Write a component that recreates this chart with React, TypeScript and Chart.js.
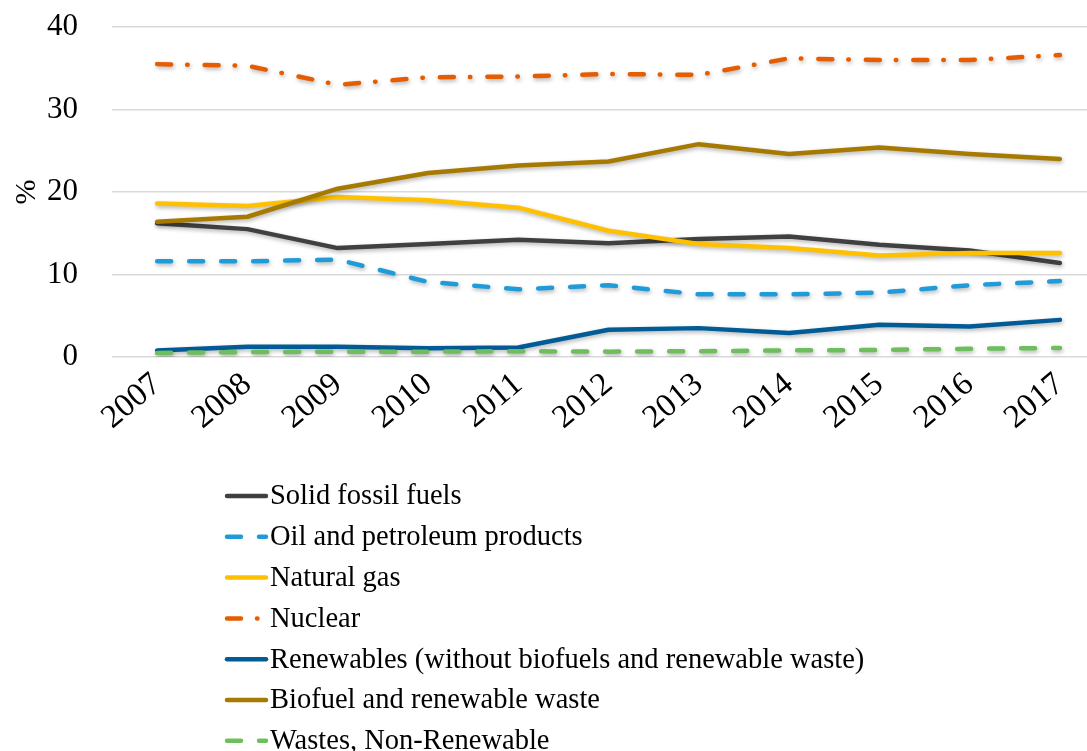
import React, { useEffect, useRef } from "react";
import { Chart, registerables } from "chart.js";

Chart.register(...registerables);

const years = [2007, 2008, 2009, 2010, 2011, 2012, 2013, 2014, 2015, 2016, 2017];
const seriesNames = [
  "Solid fossil fuels",
  "Oil and petroleum products",
  "Natural gas",
  "Nuclear",
  "Renewables (without biofuels and renewable waste)",
  "Biofuel and renewable waste",
  "Wastes, Non-Renewable",
];
const solidFossil = [16.2, 15.5, 13.2, 13.7, 14.2, 13.8, 14.3, 14.6, 13.6, 12.9, 11.4];
const oilPetroleum = [11.6, 11.6, 11.8, 9.1, 8.2, 8.7, 7.6, 7.6, 7.8, 8.7, 9.2];
const naturalGas = [18.6, 18.3, 19.4, 19.0, 18.1, 15.3, 13.7, 13.2, 12.3, 12.6, 12.6];
const nuclear = [35.5, 35.3, 33.0, 33.9, 34.0, 34.3, 34.2, 36.2, 36.0, 36.0, 36.6];
const renewables = [0.8, 1.25, 1.25, 1.05, 1.15, 3.3, 3.5, 2.9, 3.9, 3.7, 4.5];
const biofuel = [16.4, 17.0, 20.4, 22.3, 23.2, 23.7, 25.8, 24.6, 25.4, 24.6, 24.0];
const wastes = [0.5, 0.6, 0.65, 0.65, 0.7, 0.65, 0.7, 0.8, 0.85, 1.0, 1.1];
const yTicks = [0, 10, 20, 30, 40];

const seriesValues = [solidFossil, oilPetroleum, naturalGas, nuclear, renewables, biofuel, wastes];
const seriesColors = ["#404040", "#1f9bd9", "#ffc000", "#e65c00", "#005b96", "#a67a00", "#6cbf5c"];
const seriesDashes: number[][] = [[], [14, 18], [], [14, 16, 0.5, 17], [], [], [14, 18]];

const FONT = "'Liberation Serif', 'Times New Roman', serif";

const legendPlugin = {
  id: "stackedLegend",
  afterDraw(chart: any) {
    const ctx = chart.ctx;
    const x0 = 225;
    const x1 = 268;
    const yStart = 496;
    const rowH = 40.8;
    ctx.save();
    chart.data.datasets.forEach((ds: any, i: number) => {
      const y = yStart + i * rowH;
      ctx.beginPath();
      ctx.strokeStyle = ds.borderColor;
      ctx.lineWidth = 4.5;
      ctx.lineCap = "round";
      ctx.setLineDash(ds.borderDash || []);
      ctx.moveTo(x0 + 2, y);
      ctx.lineTo(x1 - 2, y);
      ctx.stroke();
      ctx.setLineDash([]);
      ctx.fillStyle = "#000";
      ctx.font = `28.5px ${FONT}`;
      ctx.textBaseline = "middle";
      ctx.textAlign = "left";
      ctx.fillText(ds.label, x1 + 2, y + 1);
    });
    ctx.restore();
  },
};

const shadowPlugin = {
  id: "lineShadow",
  beforeDatasetsDraw(chart: any) {
    const ctx = chart.ctx;
    ctx.save();
    ctx.shadowColor = "rgba(0,0,0,0.3)";
    ctx.shadowBlur = 4;
    ctx.shadowOffsetX = 1;
    ctx.shadowOffsetY = 2;
  },
  afterDatasetsDraw(chart: any) {
    chart.ctx.restore();
  },
};

export default function App() {
  const ref = useRef<HTMLCanvasElement | null>(null);

  useEffect(() => {
    if (!ref.current) return;
    const chart = new Chart(ref.current, {
      type: "line",
      data: {
        datasets: seriesNames.map((name, i) => ({
          label: name,
          data: years.map((yr, j) => ({ x: yr, y: seriesValues[i][j] })),
          borderColor: seriesColors[i],
          backgroundColor: seriesColors[i],
          borderWidth: 4.5,
          borderDash: seriesDashes[i],
          borderCapStyle: "round",
          borderJoinStyle: "round",
          pointRadius: 0,
          tension: 0,
          fill: false,
          order: -i,
        })),
      },
      options: {
        responsive: false,
        animation: false,
        layout: { padding: { top: 27, right: 0, bottom: 314, left: 0 } },
        plugins: {
          legend: { display: false },
          tooltip: { enabled: false },
        },
        scales: {
          x: {
            type: "linear",
            min: 2006.5,
            max: 2017.3,
            grid: { display: false, drawTicks: false },
            border: { display: false },
            afterBuildTicks: (s: any) => {
              s.ticks = years.map((v) => ({ value: v }));
            },
            afterFit: (s: any) => {
              s.height = 80;
              s.paddingLeft = 0;
              s.paddingRight = 0;
            },
            ticks: {
              autoSkip: false,
              minRotation: 40,
              maxRotation: 40,
              padding: 8,
              color: "#000",
              font: { family: FONT, size: 33 },
              callback: (v: any) => String(v),
            },
          },
          y: {
            min: 0,
            max: 40,
            afterBuildTicks: (s: any) => {
              s.ticks = yTicks.map((v) => ({ value: v }));
            },
            afterFit: (s: any) => {
              s.width = 112;
              s.paddingTop = 0;
              s.paddingBottom = 0;
            },
            grid: { color: "#d9d9d9", lineWidth: 1.5, drawTicks: false },
            border: { display: false },
            title: {
              display: true,
              text: "%",
              color: "#000",
              font: { family: FONT, size: 30 },
              padding: { top: 9, bottom: 0 },
            },
            ticks: {
              padding: 34,
              color: "#000",
              font: { family: FONT, size: 31 },
            },
          },
        },
      },
      plugins: [shadowPlugin, legendPlugin],
    });
    return () => chart.destroy();
  }, []);

  return (
    <div style={{ position: "absolute", left: 0, top: 0, width: 1087, height: 751, background: "#fff" }}>
      <canvas ref={ref} width={1087} height={751} />
    </div>
  );
}
